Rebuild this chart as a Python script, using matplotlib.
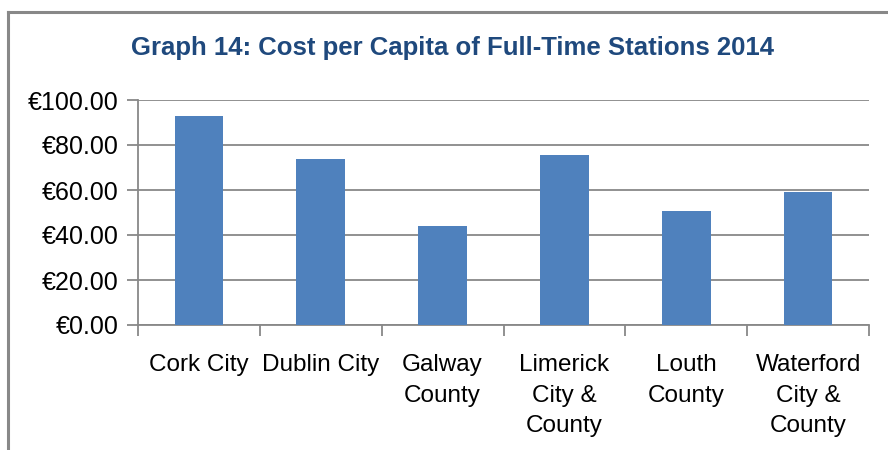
import matplotlib
matplotlib.use("Agg")
import matplotlib.pyplot as plt
from matplotlib.lines import Line2D
from matplotlib.ticker import FuncFormatter

categories = ["Cork City", "Dublin City", "Galway\nCounty", "Limerick\nCity &\nCounty",
              "Louth\nCounty", "Waterford\nCity &\nCounty"]
values = [93.0, 73.9, 44.0, 75.6, 50.7, 59.3]
yticks = [0, 20, 40, 60, 80, 100]
title = "Graph 14: Cost per Capita of Full-Time Stations 2014"

plt.rcParams['font.family'] = ['Liberation Sans', 'DejaVu Sans']

W, H = 888, 450
fig = plt.figure(figsize=(W/100, H/100), dpi=100)
ax = fig.add_axes([138/W, 1-325/H, (869-138)/W, (325-100)/H])

x = list(range(len(categories)))
ax.bar(x, values, width=0.40, color="#4F81BD", zorder=3)
ax.set_xlim(-0.5, len(categories)-0.5)
ax.set_ylim(0, 100)
ax.set_yticks(yticks)
ax.yaxis.set_major_formatter(FuncFormatter(lambda v, p: "€%.2f" % v))
ax.grid(axis='y', color="#888888", linewidth=1.3, zorder=0)
ax.set_xticks(x)
ax.set_xticklabels(categories, fontsize=17.5, linespacing=1.5)
ax.set_xticks([i - 0.5 for i in range(len(categories)+1)], minor=True)
ax.tick_params(axis='x', which='major', length=0, pad=21)
ax.tick_params(axis='x', which='minor', length=8, width=1.3, color="#888888", direction='out')
ax.tick_params(axis='y', length=8, width=1.3, color="#888888", labelsize=18, pad=6)
for s in ['top', 'right']:
    ax.spines[s].set_visible(False)
for s in ['left', 'bottom']:
    ax.spines[s].set_color("#888888")
    ax.spines[s].set_linewidth(1.3)

fig.text(452/W, 1-48/H, title, ha='center', va='center', fontsize=18.5, fontweight='bold',
         color="#1F497D")

fig.add_artist(Line2D([8/W, 8/W], [0, 1-11.5/H], color="#888888", linewidth=2.2,
                      transform=fig.transFigure))
fig.add_artist(Line2D([8/W, 1], [1-11.5/H, 1-11.5/H], color="#888888", linewidth=2.2,
                      transform=fig.transFigure))

fig.savefig("out.png", dpi=100)
